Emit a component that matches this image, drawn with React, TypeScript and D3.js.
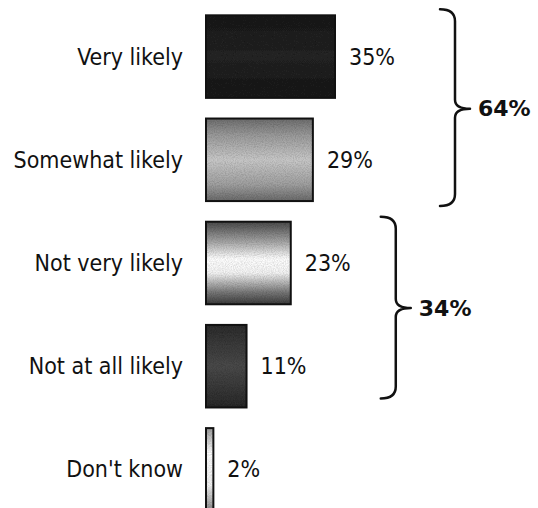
import React from "react";
import * as d3 from "d3";

const categories = ["Very likely", "Somewhat likely", "Not very likely", "Not at all likely", "Don't know"];
const values = [35, 29, 23, 11, 2];
const groupFrom = ["Very likely", "Not very likely"];
const groupTo = ["Somewhat likely", "Not at all likely"];
const groupTotals = ["64%", "34%"];

const W = 538;
const H = 508;

const gradients: { id: string; stops: [number, string][] }[] = [
  { id: "g0", stops: [[0, "#1c1c1c"], [0.5, "#262626"], [1, "#1a1a1a"]] },
  { id: "g1", stops: [[0, "#6e6e6e"], [0.2, "#9a9a9a"], [0.5, "#c8c8c8"], [0.8, "#a0a0a0"], [1, "#6a6a6a"]] },
  { id: "g2", stops: [[0, "#4a4a4a"], [0.25, "#a8a8a8"], [0.45, "#ffffff"], [0.62, "#f4f4f4"], [0.85, "#7a7a7a"], [1, "#3c3c3c"]] },
  { id: "g3", stops: [[0, "#2e2e2e"], [0.5, "#4a4a4a"], [1, "#2a2a2a"]] },
  { id: "g4", stops: [[0, "#9a9a9a"], [0.3, "#ffffff"], [0.7, "#f0f0f0"], [1, "#888888"]] },
];

export default function App() {
  const x = d3.scaleLinear().domain([0, 35]).range([206, 335]);
  const y = d3.scaleBand<string>().domain(categories).range([5, 521]).paddingInner(0.2).paddingOuter(0.1);
  const bw = y.bandwidth();
  const font = "'DejaVu Sans Condensed', 'DejaVu Sans', sans-serif";

  const braces = groupTotals.map((label, i) => {
    const a = categories.indexOf(groupFrom[i]);
    const b = categories.indexOf(groupTo[i]);
    const cats = categories.slice(a, b + 1);
    const maxV = d3.max(cats.map((c) => values[categories.indexOf(c)]))!;
    const top = (y(groupFrom[i]) as number) - (i === 0 ? 6 : 5);
    const bottom = (y(groupTo[i]) as number) + bw + (i === 0 ? 5 : -9);
    const mid = i === 0 ? (top + bottom) / 2 + 1 : 308;
    const xv = x(maxV) + (i === 0 ? 120 : 105);
    return { label, top, bottom, mid, xv };
  });

  const bracePath = (top: number, bottom: number, mid: number, xv: number) => {
    const xl = xv - 15;
    const xt = xv + 15;
    return [
      `M${xl},${top}`,
      `Q${xv},${top} ${xv},${top + 12}`,
      `L${xv},${mid - 9}`,
      `Q${xv},${mid} ${xt},${mid}`,
      `Q${xv},${mid} ${xv},${mid + 9}`,
      `L${xv},${bottom - 12}`,
      `Q${xv},${bottom} ${xl},${bottom}`,
    ].join(" ");
  };

  return (
    <div style={{ position: "fixed", left: 0, top: 0, width: W, height: H, background: "#fff" }}>
      <svg width={W} height={H} style={{ display: "block" }}>
        <defs>
          {gradients.map((g) => (
            <linearGradient key={g.id} id={g.id} x1="0" y1="0" x2="0" y2="1">
              {g.stops.map(([o, c], k) => (
                <stop key={k} offset={o} stopColor={c} />
              ))}
            </linearGradient>
          ))}
          <filter id="grain" x="0" y="0" width="100%" height="100%">
            <feTurbulence type="fractalNoise" baseFrequency="0.9" numOctaves="2" seed="3" result="noise" />
            <feColorMatrix in="noise" type="matrix"
              values="0 0 0 0 0  0 0 0 0 0  0 0 0 0 0  0 0 0 0.55 -0.18" result="dark" />
            <feComposite in="dark" in2="SourceGraphic" operator="in" result="darkIn" />
            <feMerge>
              <feMergeNode in="SourceGraphic" />
              <feMergeNode in="darkIn" />
            </feMerge>
          </filter>
        </defs>
        {categories.map((c, i) => {
          const y0 = y(c) as number;
          const x1 = x(values[i]);
          return (
            <g key={c}>
              <rect x={x(0)} y={y0} width={x1 - x(0)} height={bw} fill={`url(#${gradients[i].id})`} filter="url(#grain)" />
              <rect x={x(0)} y={y0} width={x1 - x(0)} height={bw} fill="none" stroke="#111" strokeWidth={2} />
              <text x={183} y={y0 + bw / 2} dy="0.35em" textAnchor="end" fontFamily={font} fontSize={23} fill="#111">
                {c}
              </text>
              <text x={x1 + 14} y={y0 + bw / 2} dy="0.35em" fontFamily={font} fontSize={23} fill="#111">
                {`${values[i]}%`}
              </text>
            </g>
          );
        })}
        {braces.map((b) => (
          <g key={b.label}>
            <path d={bracePath(b.top, b.bottom, b.mid, b.xv)} fill="none" stroke="#111" strokeWidth={2.5} strokeLinecap="round" strokeLinejoin="round" />
            <text x={b.xv + 23} y={b.mid} dy="0.35em" fontFamily="'DejaVu Sans', sans-serif" fontWeight="bold" fontSize={22} fill="#111">
              {b.label}
            </text>
          </g>
        ))}
      </svg>
    </div>
  );
}
